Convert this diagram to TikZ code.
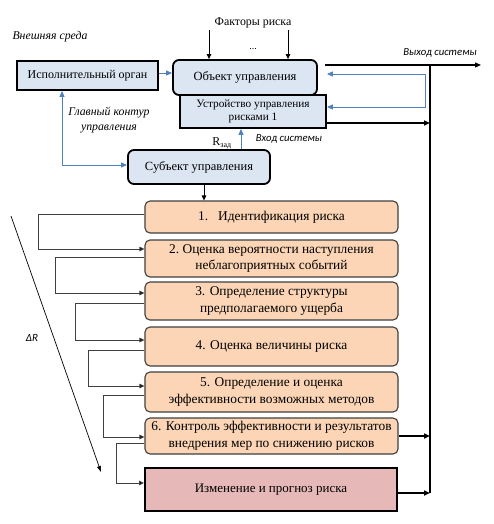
\documentclass[tikz,border=0pt]{standalone}
\usepackage{fontspec}
\setmainfont{Liberation Serif}
\newfontfamily\tms{Liberation Serif}
\newfontfamily\calfont{Carlito}
\usetikzlibrary{arrows.meta}
\definecolor{bluefill}{HTML}{DCE6F2}
\definecolor{blueline}{HTML}{4F81BD}
\definecolor{orfill}{HTML}{FBD5B5}
\definecolor{orline}{HTML}{3F3F3F}
\definecolor{redfill}{HTML}{E6B9B8}
\definecolor{connc}{HTML}{404040}
\tikzset{btip/.tip={Triangle[length=6pt,width=5pt]}}
\begin{document}
\begin{tikzpicture}[x=1pt,y=-1pt,
  bbox/.style={draw=black,line width=1.8pt,fill=bluefill,rounded corners=6pt,inner sep=1pt,font=\tms\fontsize{12.5}{14}\selectfont},
  sbox/.style={draw=black,line width=1.8pt,fill=bluefill,inner sep=1pt,font=\tms\fontsize{12}{14}\selectfont},
  obox/.style={draw=orline,line width=1.1pt,fill=orfill,rounded corners=5pt,minimum width=253pt,inner sep=1pt,align=center,font=\tms\fontsize{13.4}{16.5}\selectfont},
  rbox/.style={draw=black,line width=2pt,fill=redfill,minimum width=252pt,minimum height=43pt,inner sep=1pt,font=\tms\fontsize{13}{15}\selectfont},
  conn/.style={draw=connc,line width=0.9pt,-{Triangle[length=5pt,width=4.5pt,fill=black]}},
  blk/.style={draw=black,line width=1.8pt,-{Triangle[length=6pt,width=5pt]}},
  barr/.style={draw=blueline,line width=0.9pt},
  itl/.style={font=\tms\fontsize{11.8}{14}\selectfont\itshape},
  ctl/.style={font=\calfont\fontsize{10.7}{12}\selectfont\itshape}]
\useasboundingbox (0,0) rectangle (493,524);

% labels
\node[itl,anchor=west] (env) at (9,37) {Внешняя среда};
\node[font=\tms\fontsize{11.9}{14}\selectfont,inner sep=2pt] (fact) at (253,23) {Факторы риска};
\node[font=\tms\fontsize{10}{10}\selectfont] (dots) at (253,49) {...};
\node[ctl] (out) at (440,53) {Выход системы};
\node[ctl] (inp) at (289,139) {Вход системы};
\node[itl,align=center] (mainc) at (109,120) {Главный контур\\[1pt]управления};
\node[font=\tms\fontsize{12}{14}\selectfont] (rzad) at (222,143) {R\textsubscript{зад}};
\node[font=\calfont\fontsize{11}{12}\selectfont\itshape] (dr) at (32,338) {ΔR};

% top boxes
\node[sbox,minimum width=146pt,minimum height=33pt,align=center,font=\tms\fontsize{11.3}{13}\selectfont] (ust) at (253,111.5) {Устройство управления\\рисками 1};
\node[bbox,minimum width=144pt,minimum height=35pt] (obj) at (245,77.5) {Объект управления};
\node[sbox,minimum width=141pt,minimum height=29pt] (isp) at (87.5,75.5) {Исполнительный орган};
\node[bbox,minimum width=142pt,minimum height=34pt] (subj) at (199,167) {Субъект управления};

% process boxes
\node[obox,minimum height=32pt] (b1) at (271.5,217) {1.\ \ \ Идентификация риска};
\node[obox,minimum height=37pt] (b2) at (271.5,258.5) {2.\ Оценка вероятности наступления\\неблагоприятных событий};
\node[obox,minimum height=38pt] (b3) at (271.5,301) {3. Определение структуры\\предполагаемого ущерба};
\node[obox,minimum height=39pt] (b4) at (271.5,346.5) {4. Оценка величины риска};
\node[obox,minimum height=40pt] (b5) at (271.5,392) {5. Определение и оценка\\эффективности возможных методов};
\node[obox,minimum height=36pt] (b6) at (271.5,436) {6. Контроль эффективности и результатов\\внедрения мер по снижению рисков};
\node[rbox] (b7) at (271,489.5) {Изменение и прогноз риска};

% factor arrows
\draw[conn,draw=black] ([xshift=-44pt]fact.south) -- ([xshift=-44pt]fact.south |- obj.north);
\draw[conn,draw=black] ([xshift=35pt]fact.south) -- ([xshift=35pt]fact.south |- obj.north);

% blue connections
\draw[barr,-btip] ([yshift=2.5pt]isp.east) -- ([yshift=4.5pt]obj.west);
\draw[barr,btip-btip] ([xshift=-25.5pt]isp.south) |- ([yshift=2pt]subj.west);
\draw[barr,-btip] ([xshift=42pt]subj.north) -- ([xshift=42pt]subj.north |- ust.south);
\draw[barr,btip-btip] ([xshift=9pt,yshift=3.5pt]obj.east) -- (425,74) -- (425,107) -- ([yshift=4.5pt]ust.east);

% right output lines
\coordinate (vt) at (430,65);
\coordinate (vb) at (430,493);
\coordinate (ostart) at (325,65);
\coordinate (oend) at (481,65);
\draw[black,line width=1.8pt] (vt) -- (vb);
\draw[blk,line width=1.2pt] (ostart) -- (oend);
\draw[blk] ([yshift=-11.5pt]ust.east) -- ([yshift=-11.5pt]ust.east -| vt);
\draw[blk] (b6.east) -- (b6.east -| vt);
\draw[blk] ([yshift=-3.5pt]b7.east) -- ([yshift=-3.5pt]b7.east -| vt);

% subject to step 1
\draw[conn,draw=black] ([xshift=5pt]subj.south) -- ([xshift=5pt]subj.south |- b1.north);

% step connectors
\draw[conn] ([yshift=3pt]b1.west) -- (38,214) |- ([yshift=9.5pt]b2.west);
\draw[conn] ([yshift=1.5pt]b2.west) -- (55,257) |- ([yshift=8pt]b3.west);
\draw[conn] ([yshift=-2pt]b3.west) -- (75,303) |- ([yshift=6.5pt]b4.west);
\draw[conn] ([yshift=-3.5pt]b4.west) -- (88,350) |- ([yshift=6pt]b5.west);
\draw[conn] ([yshift=-3pt]b5.west) -- (103,395) |- ([yshift=-1pt]b6.west);
\draw[conn] ([yshift=-7pt]b6.west) -- (116,443) |- ([yshift=6.5pt]b7.west);

% diagonal
\coordinate (dA) at (11,216);
\coordinate (dB) at (101,472);
\draw[black,line width=0.7pt,-{Triangle[length=6pt,width=4pt]}] (dA) -- (dB);
\end{tikzpicture}
\end{document}
